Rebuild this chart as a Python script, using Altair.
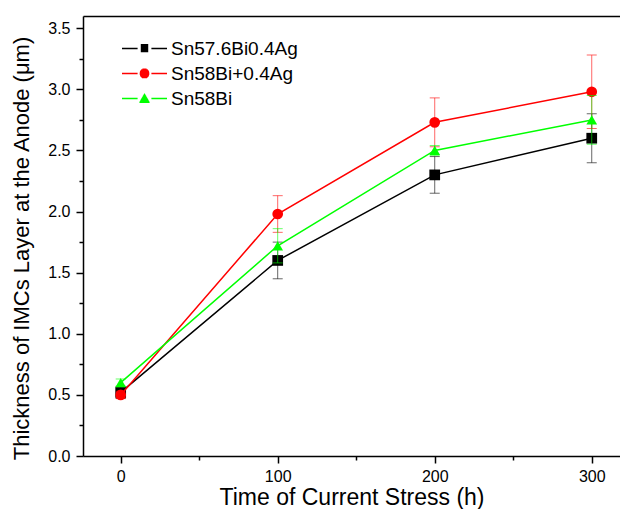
import math
import altair as alt
import pandas as pd

times = [0, 100, 200, 300]
series_names = ["Sn57.6Bi0.4Ag", "Sn58Bi+0.4Ag", "Sn58Bi"]
series_colors = ["#000000", "#ff0000", "#00ff00"]
series_shapes = ["square", "circle", "triangle-up"]

black_vals = [0.52, 1.60, 2.30, 2.60]
black_err = [0.05, 0.15, 0.15, 0.20]
red_vals = [0.50, 1.98, 2.73, 2.98]
red_err = [0.03, 0.15, 0.20, 0.30]
green_vals = [0.60, 1.72, 2.50, 2.75]
green_err = [0.03, 0.14, 0.04, 0.20]

x_ticks = [0, 50, 100, 150, 200, 250, 300]
y_ticks = [0, 0.25, 0.5, 0.75, 1.0, 1.25, 1.5, 1.75, 2.0, 2.25, 2.5, 2.75, 3.0, 3.25, 3.5]

rows = []
for name, vals, errs in [(series_names[0], black_vals, black_err),
                         (series_names[1], red_vals, red_err),
                         (series_names[2], green_vals, green_err)]:
    for t, v, e in zip(times, vals, errs):
        rows.append({"series": name, "time": t, "value": v, "lo": v - e, "hi": v + e})
df = pd.DataFrame(rows)

FONT = "Liberation Sans"
xscale = alt.Scale(domain=[-24, 318], nice=False, zero=False)
yscale = alt.Scale(domain=[0, 3.6], nice=False, zero=True)

x_axis = alt.Axis(
    values=x_ticks,
    labelExpr="datum.value % 100 === 0 ? datum.label : ''",
    tickSize={"condition": {"test": "datum.value % 100 === 0", "value": 7}, "value": 4},
    grid=False, domainColor="black", domainWidth=1.5, tickColor="black", tickWidth=1.5,
    labelFont=FONT, labelFontSize=16, labelColor="black", labelPadding=5,
    title="Time of Current Stress (h)", titleFont=FONT, titleFontSize=23,
    titleFontWeight="normal", titleColor="black", titleBaseline="alphabetic", titleY=48,
)
y_axis = alt.Axis(
    values=y_ticks,
    labelExpr="datum.value % 0.5 === 0 ? format(datum.value, '.1f') : ''",
    tickSize={"condition": {"test": "datum.value % 0.5 === 0", "value": 7}, "value": 4},
    grid=False, domainColor="black", domainWidth=1.5, tickColor="black", tickWidth=1.5,
    labelFont=FONT, labelFontSize=16, labelColor="black", labelPadding=6,
    title="Thickness of IMCs Layer at the Anode (\u03bcm)", titleFont=FONT, titleFontSize=22,
    titleFontWeight="normal", titleColor="black", titleAngle=270, titleBaseline="alphabetic",
    titleX=-55, titleY=232,
)
top_axis = alt.Axis(orient="top", labels=False, ticks=False, grid=False, title=None,
                    domainColor="black", domainWidth=1.5)

base = alt.Chart(df)
X = lambda f, ax=None: alt.X(f, scale=xscale, axis=ax)
Y = lambda f, ax=None: alt.Y(f, scale=yscale, axis=ax)

layers = []
for i, (name, col, shp) in enumerate(zip(series_names, series_colors, series_shapes)):
    sb = base.transform_filter(alt.datum.series == name)
    if i == 0:
        layers.append(sb.mark_line(strokeWidth=1.5, color=col).encode(
            x=X("time:Q", x_axis), y=Y("value:Q", y_axis)))
    else:
        layers.append(sb.mark_line(strokeWidth=1.5, color=col).encode(
            x=X("time:Q"), y=Y("value:Q")))
    layers.append(sb.mark_point(filled=True, opacity=1, size=115, shape=shp, color=col).encode(
        x=X("time:Q"), y=Y("value:Q")))
    layers.append(sb.mark_rule(strokeWidth=1, opacity=0.6, color=col).encode(
        x=X("time:Q"), y=Y("lo:Q"), y2="hi:Q"))
    layers.append(sb.transform_fold(["lo", "hi"], as_=["which", "yv"]).mark_tick(
        orient="horizontal", size=10, thickness=1, opacity=0.6, color=col).encode(
        x=X("time:Q"), y=Y("yv:Q")))


# legend symbols: line stubs + marker filled by dense strokes (units of 6 px)
def hatch(halfwidth_at, y0, y1, step=0.14):
    parts = []
    y = y0
    while y <= y1 + 1e-9:
        w = halfwidth_at(y)
        if w > 0.02:
            parts.append(f"M{-w:.3f},{y:.3f}H{w:.3f}")
        y += step
    return "".join(parts)

stub = "M-3.75,0H-1.15M1.15,0H3.75"
sq = stub + hatch(lambda y: 0.62, -0.62, 0.62)
ci = stub + hatch(lambda y: math.sqrt(max(0.0, 0.8 ** 2 - y ** 2)), -0.72, 0.72)
tr = stub + hatch(lambda y: (y + 0.85) / 1.6 * 0.92, -0.78, 0.75)
legend_paths = [sq, ci, tr]

leg_props = dict(title=None, orient="none", legendX=52, legendY=23, padding=0,
                 symbolSize=144, symbolStrokeWidth=1.5, symbolOpacity=1,
                 labelFont=FONT, labelFontSize=19, labelColor="black",
                 labelOffset=17, rowPadding=5)
legend_layer = base.mark_point(filled=False, opacity=0, strokeWidth=1.5).encode(
    x=X("time:Q", top_axis),
    y=Y("value:Q"),
    color=alt.Color("series:N", scale=alt.Scale(domain=series_names, range=series_colors),
                    legend=alt.Legend(**leg_props)),
    shape=alt.Shape("series:N", scale=alt.Scale(domain=series_names, range=legend_paths),
                    legend=alt.Legend(**leg_props)),
)
layers.append(legend_layer)

chart = alt.layer(*layers).resolve_axis(x="independent", y="independent").properties(
    width=537, height=440,
    autosize=alt.AutoSizeParams(type="none"),
    padding={"left": 75, "top": 8, "right": 0, "bottom": 53},
    background="white",
).configure_view(stroke=None)

chart.save("out.html", embed_options={"renderer": "svg", "actions": False})
